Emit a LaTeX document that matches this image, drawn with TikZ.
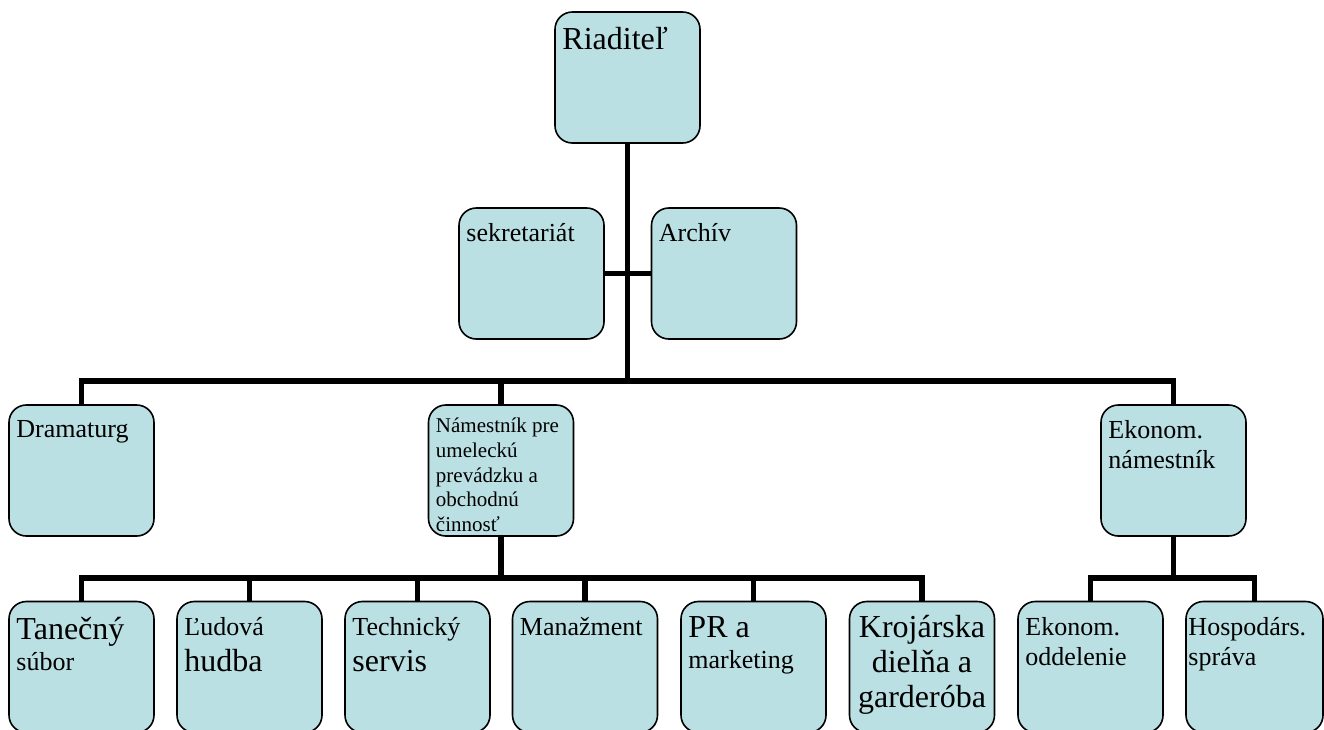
\documentclass[tikz,border=0pt]{standalone}
\usepackage{fontspec}
\setmainfont{Liberation Serif}
\usetikzlibrary{calc}

\definecolor{boxblue}{RGB}{187,224,227}
\newcommand{\bigf}{\fontsize{24}{26.25}\selectfont}
\newcommand{\bigtf}{\fontsize{24}{23.25}\selectfont}
\newcommand{\normf}{\fontsize{19.5}{22.5}\selectfont}
\newcommand{\normtf}{\fontsize{19.5}{27}\selectfont}
\newcommand{\smallf}{\fontsize{15.75}{18.6}\selectfont}

\begin{document}
\begin{tikzpicture}[x=0.75pt, y=-0.75pt,
  unit/.style={draw=black, line width=1.2pt, fill=boxblue, rounded corners=13pt,
    minimum width=108.75pt, minimum height=98.25pt, inner sep=0pt},
  txt/.style={anchor=north west, inner sep=0pt, align=left, xshift=6pt, yshift=-12pt},
  ctxt/.style={anchor=north, inner sep=0pt, align=center, yshift=-11pt},
  link/.style={draw=black, line width=4.4pt}]
   \useasboundingbox (0,0) rectangle (1324,729);
   \clip (0,0) rectangle (1324,729);
   % top
   \node[unit, label={[txt, font=\bigf]north west:Riaditeľ}] (dir) at (627.5,77.5) {};
   \node[unit, label={[txt, font=\normf]north west:sekretariát}] (sek) at (531.5,273.5) {};
   \node[unit, label={[txt, font=\normf]north west:Archív}] (arch) at (724,273.5) {};
   % deputies
   \node[unit, label={[txt, font=\normf]north west:Dramaturg}] (drama) at (81.5,470.5) {};
   \node[unit, label={[txt, font=\smallf, yshift=2pt]north west:Námestník pre\\umeleckú\\prevádzku a\\obchodnú\\činnosť}] (nam) at (501,470.5) {};
   \node[unit, label={[txt, font=\normf]north west:Ekonom.\\námestník}] (eko) at (1173.5,470.5) {};
   % departments
   \node[unit, label={[txt, font=\bigtf]north west:Tanečný\\{\normf súbor}}] (tan) at (81.5,667) {};
   \node[unit, label={[txt, font=\normtf]north west:Ľudová\\{\bigf hudba}}] (lud) at (249.5,667) {};
   \node[unit, label={[txt, font=\normtf]north west:Technický\\{\bigf servis}}] (tech) at (417.5,667) {};
   \node[unit, label={[txt, font=\normf]north west:Manažment}] (man) at (585,667) {};
   \node[unit, label={[txt, font=\bigtf]north west:PR a\\{\normf marketing}}] (pr) at (753.5,667) {};
   \node[unit, label={[ctxt, font=\bigf]north:Krojárska\\dielňa a\\garderóba}] (kroj) at (922,667) {};
   \node[unit, label={[txt, font=\normf]north west:Ekonom.\\oddelenie}] (ekood) at (1090.5,667) {};
   \node[unit, minimum width=102.75pt, label={[txt, font=\normf, xshift=-3.75pt]north west:Hospodárs.\\správa}] (hosp) at (1254.5,667) {};
   % lines
   \coordinate (bus1) at (628,381);
   \coordinate (bus2) at (501,578);
   \coordinate (bus3) at (1174,578);
   \draw[link] (dir.south) -- (dir.south |- bus1);
   \draw[link] (sek.east) -- (arch.west);
   \draw[link] (drama.north) |- (eko.north |- bus1) -- (eko.north);
   \draw[link] (nam.north) -- (nam.north |- bus1);
   \draw[link] (nam.south) -- (nam.south |- bus2);
   \draw[link] (tan.north) |- (kroj.north |- bus2) -- (kroj.north);
   \foreach \n in {lud,tech,man,pr}
     \draw[link] (\n.north) -- (\n.north |- bus2);
   \draw[link] (eko.south) -- (eko.south |- bus3);
   \draw[link] (ekood.north) |- (hosp.north |- bus3) -- (hosp.north);
\end{tikzpicture}
\end{document}
